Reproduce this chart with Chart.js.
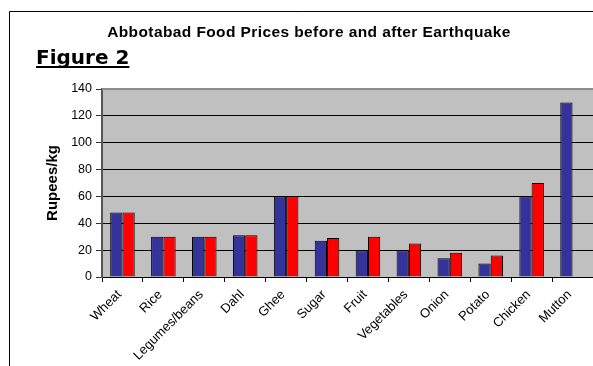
<!DOCTYPE html>
<html>
<head>
<meta charset="utf-8">
<title>Abbotabad Food Prices</title>
<script src="https://cdn.jsdelivr.net/npm/chart.js@4/dist/chart.umd.min.js"></script>
<style>
    html, body { margin: 0; padding: 0; background: #fff; overflow: hidden; }
    #wrap { position: relative; width: 593px; height: 366px; }
</style>
</head>
<body>
<div id="wrap"><canvas id="pricesChart" width="593" height="366"></canvas></div>
<script>
// Food prices (Rupees/kg) before and after the earthquake
const categories = ['Wheat', 'Rice', 'Legumes/beans', 'Dahl', 'Ghee', 'Sugar', 'Fruit', 'Vegetables', 'Onion', 'Potato', 'Chicken', 'Mutton'];
const beforeQuake = [48, 30, 30, 31, 60, 27, 20, 20, 14, 10, 60, 130];
const afterQuake = [48, 30, 30, 31, 60, 29, 30, 25, 18, 16, 70, null];
const yTicks = [0, 20, 40, 60, 80, 100, 120, 140];

const chartTitle = 'Abbotabad Food Prices before and after Earthquake';
const figureLabel = 'Figure 2';

// Page frame, grey plot background and the headings
const framePlugin = {
    id: 'frame',
    beforeDraw(chart) {
        const ctx = chart.ctx;
        const area = chart.chartArea;
        ctx.save();
        ctx.fillStyle = '#fff';
        ctx.fillRect(0, 0, chart.width, chart.height);
        ctx.strokeStyle = '#000';
        ctx.lineWidth = 1;
        ctx.beginPath();
        ctx.moveTo(9.5, chart.height);
        ctx.lineTo(9.5, 11.5);
        ctx.lineTo(chart.width, 11.5);
        ctx.stroke();
        ctx.fillStyle = '#c0c0c0';
        ctx.fillRect(area.left, area.top, area.right - area.left, area.bottom - area.top);
        ctx.restore();
    },
    afterDraw(chart) {
        const ctx = chart.ctx;
        const area = chart.chartArea;
        ctx.save();
        // top edge of the plot area
        ctx.fillStyle = '#8c8c8c';
        ctx.fillRect(area.left, area.top - 1, area.right - area.left, 2);

        ctx.fillStyle = '#000';
        ctx.font = 'bold 15.5px "Liberation Sans", Arial, sans-serif';
        ctx.letterSpacing = '0.4px';
        ctx.textAlign = 'center';
        ctx.textBaseline = 'alphabetic';
        ctx.fillText(chartTitle, 309, 36.5);

        ctx.letterSpacing = '0px';
        ctx.font = 'bold 20px "DejaVu Sans", Verdana, sans-serif';
        ctx.textAlign = 'left';
        ctx.fillText(figureLabel, 36, 63.5);
        const w = ctx.measureText(figureLabel).width;
        ctx.fillRect(36, 66, w, 2);
        ctx.restore();
    }
};

new Chart(document.getElementById('pricesChart'), {
    type: 'bar',
    data: {
        labels: categories,
        datasets: [{
            label: 'Before',
            data: beforeQuake,
            backgroundColor: '#333399',
            borderColor: '#000',
            borderWidth: 1,
            borderSkipped: 'bottom'
        }, {
            label: 'After',
            data: afterQuake,
            backgroundColor: '#ff0000',
            borderColor: '#000',
            borderWidth: 1,
            borderSkipped: 'bottom'
        }]
    },
    options: {
        responsive: false,
        animation: false,
        devicePixelRatio: 1,
        layout: { padding: { left: 10, top: 89, right: 0, bottom: 0 } },
        datasets: {
            bar: { categoryPercentage: 0.6, barPercentage: 1 }
        },
        plugins: {
            legend: { display: false },
            tooltip: { enabled: false }
        },
        scales: {
            x: {
                grid: {
                    offset: true,
                    drawOnChartArea: false,
                    drawTicks: true,
                    tickLength: 5,
                    color: '#000'
                },
                border: { color: '#000', width: 1 },
                ticks: {
                    color: '#000',
                    minRotation: 45,
                    maxRotation: 45,
                    autoSkip: false,
                    padding: 5,
                    labelOffset: -3,
                    font: { family: '"Liberation Sans", Arial, sans-serif', size: 13 }
                },
                afterFit(scale) { scale.height = 89; }
            },
            y: {
                min: 0,
                max: 140,
                afterBuildTicks(scale) {
                    scale.ticks = yTicks.map(v => ({ value: v }));
                },
                grid: {
                    color: ctx => (ctx.tick && ctx.tick.value === 140) ? 'rgba(0,0,0,0)' : '#000',
                    tickColor: '#333',
                    lineWidth: 1,
                    drawTicks: true,
                    tickLength: 6
                },
                border: { color: '#555', width: 2 },
                ticks: {
                    color: '#000',
                    padding: 4,
                    font: { family: '"Liberation Sans", Arial, sans-serif', size: 12.5 }
                },
                title: {
                    display: true,
                    text: 'Rupees/kg',
                    color: '#000',
                    padding: { top: 34, bottom: 0 },
                    font: { family: '"Liberation Sans", Arial, sans-serif', size: 15, weight: 'bold' }
                },
                afterFit(scale) { scale.width = 92; }
            }
        }
    },
    plugins: [framePlugin]
});
</script>
</body>
</html>
